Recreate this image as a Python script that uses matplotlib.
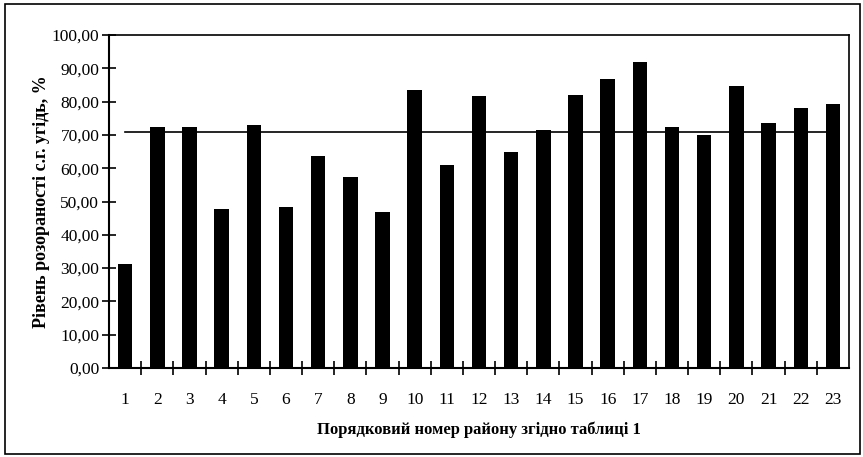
import matplotlib
matplotlib.use("Agg")
import matplotlib.pyplot as plt
import numpy as np
from matplotlib.ticker import FixedLocator, FuncFormatter
from matplotlib.patches import Rectangle

districts = list(range(1, 24))
values = [31.3, 72.4, 72.4, 47.7, 72.9, 48.2, 63.7, 57.4, 46.9, 83.4,
          61.1, 81.6, 64.9, 71.6, 81.9, 86.8, 91.9, 72.3, 69.9, 84.8,
          73.5, 78.0, 79.4]
average = [70.9] * len(districts)
y_ticks = [0, 10, 20, 30, 40, 50, 60, 70, 80, 90, 100]
xlabel = "Порядковий номер району згідно таблиці 1"
ylabel = "Рівень розораності с.г. угідь, %"

plt.rcParams['font.family'] = ['Liberation Serif', 'DejaVu Serif']

fig = plt.figure(figsize=(8.63, 4.57), dpi=100)
ax = fig.add_axes([109 / 863, 1 - 368 / 457, (849 - 109) / 863, (368 - 35) / 457])

x = np.array(districts)
ax.bar(x, values, width=0.45, color='black', zorder=2)
ax.plot(x, average, color='black', linewidth=1.2, zorder=3)

ax.set_xlim(0.5, 23.5)
ax.set_ylim(0, 100)
ax.set_yticks(y_ticks)
ax.yaxis.set_major_formatter(FuncFormatter(lambda v, p: f"{v:.2f}".replace('.', ',')))
ax.set_xticks(x)
ax.set_xticklabels([str(d) for d in districts])
ax.xaxis.set_minor_locator(FixedLocator(np.arange(1.5, 23.5, 1.0)))
ax.tick_params(axis='x', which='major', length=0, pad=17, labelsize=12.5)
ax.tick_params(axis='x', which='minor', direction='inout', length=10, width=1.2)
ax.tick_params(axis='y', which='major', direction='inout', length=10, width=1.2,
               labelsize=12.5, pad=2)
for s in ax.spines.values():
    s.set_linewidth(1.2)
ax.spines['left'].set_linewidth(1.5)
ax.spines['bottom'].set_linewidth(1.5)

ax.set_xlabel(xlabel, fontsize=12, fontweight='bold', labelpad=10)
ax.set_ylabel(ylabel, fontsize=13, fontweight='bold', labelpad=1)

fig.patches.append(Rectangle((5 / 863, 3 / 457), 855 / 863, 450 / 457,
                             transform=fig.transFigure, fill=False,
                             edgecolor='black', linewidth=1.2))

fig.savefig("out.png", dpi=100)
